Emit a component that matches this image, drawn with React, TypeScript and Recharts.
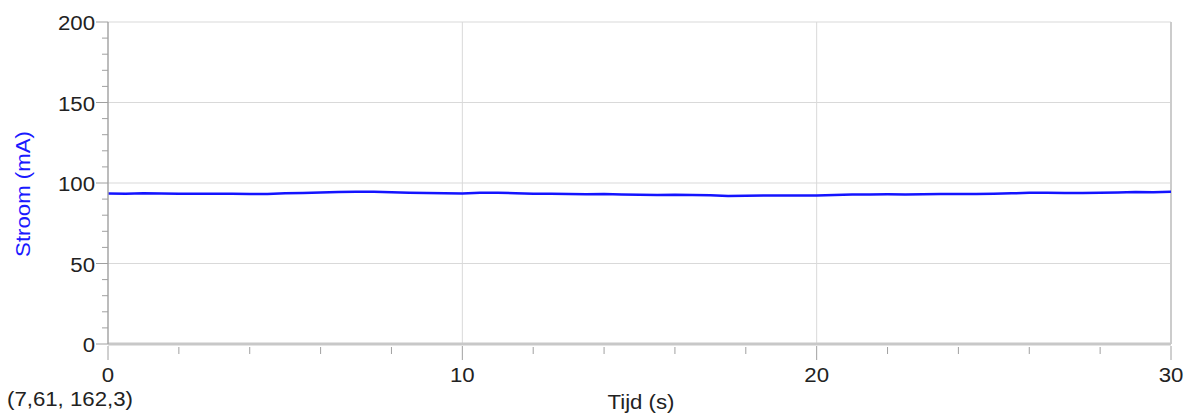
import React from "react";
import { LineChart, Line, XAxis, YAxis, ReferenceLine } from "recharts";

const times: number[] = [
  0, 0.5, 1, 1.5, 2, 2.5, 3, 3.5, 4, 4.5, 5, 5.5, 6, 6.5, 7, 7.5, 8, 8.5, 9, 9.5,
  10, 10.5, 11, 11.5, 12, 12.5, 13, 13.5, 14, 14.5, 15, 15.5, 16, 16.5, 17, 17.5,
  18, 18.5, 19, 19.5, 20, 20.5, 21, 21.5, 22, 22.5, 23, 23.5, 24, 24.5, 25, 25.5,
  26, 26.5, 27, 27.5, 28, 28.5, 29, 29.5, 30,
];
const current: number[] = [
  93.5, 93.4, 93.6, 93.5, 93.4, 93.3, 93.4, 93.3, 93.2, 93.1, 93.6, 93.8, 94.1,
  94.4, 94.6, 94.5, 94.3, 94.0, 93.8, 93.7, 93.5, 93.9, 94.0, 93.7, 93.4, 93.3,
  93.1, 93.0, 93.2, 92.9, 92.7, 92.6, 92.7, 92.5, 92.4, 92.0, 92.1, 92.2, 92.3,
  92.3, 92.2, 92.6, 92.8, 92.9, 93.0, 92.9, 93.0, 93.1, 93.1, 93.2, 93.3, 93.6,
  93.9, 93.9, 93.8, 93.8, 94.0, 94.1, 94.4, 94.3, 94.5,
];
const yTicks: number[] = [0, 10, 20, 30, 40, 50, 60, 70, 80, 90, 100, 110, 120, 130, 140, 150, 160, 170, 180, 190, 200];
const yMajor: number[] = [0, 50, 100, 150, 200];
const xTicks: number[] = [0, 2, 4, 6, 8, 10, 12, 14, 16, 18, 20, 22, 24, 26, 28, 30];
const xMajor: number[] = [0, 10, 20, 30];
const cursorLabel = "(7,61, 162,3)";
const xTitle = "Tijd (s)";
const yTitle = "Stroom (mA)";

const data = times.map((t, i) => ({ t, v: current[i] }));

const FONT = "'Liberation Sans', Arial, sans-serif";
const FS = 19.5;
const SX = 1.14;

const YTick = (props: any) => {
  const { x, y, payload } = props;
  const major = yMajor.includes(payload.value);
  return (
    <g>
      <line x1={x - (major ? 12 : 6)} x2={x} y1={y} y2={y} stroke="#a0a0a0" strokeWidth={1} />
      {major && (
        <text
          transform={`translate(${x - 13},${y + 8}) scale(${SX},1)`}
          textAnchor="end"
          fontFamily={FONT}
          fontSize={FS}
          fill="#222"
        >
          {payload.value}
        </text>
      )}
    </g>
  );
};

const XTick = (props: any) => {
  const { x, y, payload } = props;
  const major = xMajor.includes(payload.value);
  return (
    <g>
      <line x1={x} x2={x} y1={y + (major ? 2 : 3)} y2={y + (major ? 16 : 10)} stroke="#a0a0a0" strokeWidth={1} />
      {major && (
        <text
          transform={`translate(${x},${y + 38}) scale(${SX},1)`}
          textAnchor="middle"
          fontFamily={FONT}
          fontSize={FS}
          fill="#222"
        >
          {payload.value}
        </text>
      )}
    </g>
  );
};

export default function App() {
  return (
    <div style={{ position: "absolute", left: 0, top: 0, width: 1192, height: 419, background: "#fff" }}>
      <LineChart width={1192} height={419} data={data} margin={{ top: 22, right: 21, bottom: 0, left: 0 }}>
        <XAxis
          dataKey="t"
          type="number"
          domain={[0, 30]}
          ticks={xTicks}
          interval={0}
          height={75}
          tickSize={0}
          tickMargin={0}
          tickLine={false}
          tick={<XTick />}
          axisLine={{ stroke: "#c8c8c8", strokeWidth: 3 }}
        />
        <YAxis
          type="number"
          domain={[0, 200]}
          ticks={yTicks}
          interval={0}
          width={108}
          tickSize={0}
          tickMargin={0}
          tickLine={false}
          tick={<YTick />}
          axisLine={{ stroke: "#a6a6a6", strokeWidth: 1.5 }}
        />
        {yMajor.filter((v) => v > 0).map((v) => (
          <ReferenceLine key={"y" + v} y={v} stroke="#d9d9d9" strokeWidth={1} />
        ))}
        {xMajor.filter((v) => v > 0 && v < 30).map((v) => (
          <ReferenceLine key={"x" + v} x={v} stroke="#d9d9d9" strokeWidth={1} />
        ))}
        <ReferenceLine x={30} stroke="#cccccc" strokeWidth={2} />
        <Line
          dataKey="v"
          type="linear"
          stroke="#1414ff"
          strokeWidth={2.5}
          dot={false}
          isAnimationActive={false}
        />
      </LineChart>
      <svg width={1192} height={419} style={{ position: "absolute", left: 0, top: 0, pointerEvents: "none" }}>
        <text transform={`translate(7,406) scale(${SX},1)`} fontFamily={FONT} fontSize={FS} fill="#222">
          {cursorLabel}
        </text>
        <text transform={`translate(641,409) scale(${SX},1)`} textAnchor="middle" fontFamily={FONT} fontSize={FS} fill="#222">
          {xTitle}
        </text>
        <text
          transform={`translate(30,194) rotate(-90) scale(${SX},1)`}
          textAnchor="middle"
          fontFamily={FONT}
          fontSize={FS}
          fill="#1a1aff"
        >
          {yTitle}
        </text>
      </svg>
    </div>
  );
}
